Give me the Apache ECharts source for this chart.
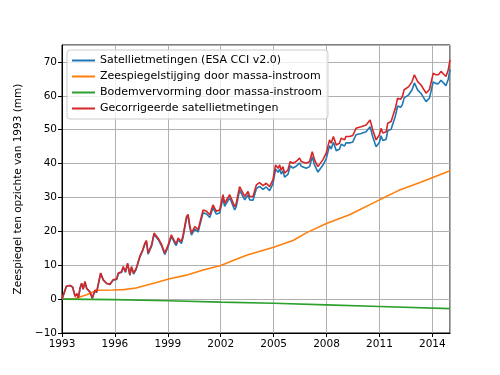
<!DOCTYPE html>
<html>
<head>
<meta charset="utf-8">
<script src="https://cdn.jsdelivr.net/npm/echarts@6/dist/echarts.min.js"></script>
<style>
html, body { margin: 0; padding: 0; background: #fff; }
#chart { width: 500px; height: 375px; }
</style>
</head>
<body>
<div id="chart"></div>
<script>
// jaartallen van de satellietreeks
var satYears = [1993.0, 1993.07, 1993.25, 1993.45, 1993.6, 1993.74, 1993.85, 1993.93, 1994.02, 1994.11,
	1994.2, 1994.3, 1994.4, 1994.58, 1994.72, 1994.87, 1994.96, 1995.19, 1995.34, 1995.53,
	1995.62, 1995.72, 1995.9, 1996.1, 1996.19, 1996.38, 1996.47, 1996.6, 1996.72, 1996.85,
	1996.94, 1997.06, 1997.2, 1997.41, 1997.57, 1997.7, 1997.79, 1997.88, 1998.08, 1998.22,
	1998.45, 1998.63, 1998.83, 1999.02, 1999.2, 1999.39, 1999.48, 1999.58, 1999.77, 1999.86,
	2000.06, 2000.15, 2000.24, 2000.34, 2000.53, 2000.72, 2000.81, 2001.0, 2001.2, 2001.28,
	2001.38, 2001.56, 2001.66, 2001.75, 2001.94, 2002.13, 2002.22, 2002.32, 2002.51, 2002.6,
	2002.79, 2002.88, 2003.07, 2003.17, 2003.36, 2003.55, 2003.64, 2003.83, 2004.02, 2004.2,
	2004.4, 2004.58, 2004.77, 2004.87, 2004.96, 2005.11, 2005.25, 2005.34, 2005.43, 2005.53,
	2005.62, 2005.81, 2005.94, 2006.09, 2006.28, 2006.47, 2006.57, 2006.66, 2006.85, 2007.04,
	2007.19, 2007.32, 2007.51, 2007.6, 2007.79, 2007.98, 2008.17, 2008.26, 2008.39, 2008.55,
	2008.73, 2008.83, 2009.02, 2009.1, 2009.3, 2009.49, 2009.67, 2009.96, 2010.24, 2010.47,
	2010.62, 2010.81, 2011.0, 2011.09, 2011.19, 2011.38, 2011.47, 2011.66, 2011.75, 2011.9,
	2012.03, 2012.2, 2012.3, 2012.4, 2012.5, 2012.66, 2012.85, 2012.98, 2013.17, 2013.36,
	2013.64, 2013.83, 2013.92, 2014.05, 2014.2, 2014.34, 2014.49, 2014.6, 2014.77, 2014.9,
	2015.0];
// Satellietmetingen (ESA CCI v2.0)
var satBlue = [0, 0.3, 3.8, 4.0, 3.6, 0.8, 1.6, 0.3, 3.1, 4.6,
	2.9, 5.1, 3.1, 2.1, 0.2, 2.6, 1.9, 7.6, 5.6, 4.6,
	5.1, 4.3, 5.6, 5.8, 7.5, 7.9, 9.4, 7.9, 10.4, 7.0,
	9.4, 7.4, 8.7, 12.3, 14.2, 16.2, 17.0, 13.3, 15.6, 19.1,
	17.6, 15.9, 13.2, 15.5, 18.5, 16.5, 15.8, 17.5, 16.4, 18.1,
	23.8, 24.4, 21.3, 18.9, 20.7, 19.8, 21.7, 25.5, 25.1, 25.5,
	24.1, 27.0, 26.6, 25.1, 25.4, 29.9, 27.4, 26.9, 29.9, 30.4,
	26.3, 27.3, 32.2, 31.7, 29.3, 30.8, 29.3, 29.2, 32.6, 33.3,
	32.4, 33.1, 32.0, 32.3, 34.0, 38.4, 37.4, 38.4, 36.9, 37.9,
	36.0, 36.8, 39.3, 38.7, 39.2, 40.2, 39.2, 39.7, 38.6, 39.1,
	42.0, 39.6, 37.5, 38.0, 39.5, 41.4, 45.3, 44.3, 46.3, 43.8,
	44.2, 45.7, 45.2, 46.1, 46.1, 46.4, 48.5, 48.9, 49.4, 50.9,
	47.9, 45.0, 46.3, 48.2, 46.8, 47.2, 49.7, 50.1, 50.1, 54.0,
	57.0, 56.6, 57.4, 59.4, 58.9, 60.3, 61.8, 63.8, 61.7, 60.7,
	58.3, 59.3, 61.2, 64.1, 63.6, 63.6, 64.6, 64.1, 63.0, 64.9,
	67.8];
// Gecorrigeerde satellietmetingen
var satRed = [0, 0.3, 3.8, 4.0, 3.6, 0.8, 1.6, 0.3, 3.2, 4.7,
	3.0, 5.2, 3.2, 2.2, 0.3, 2.7, 2.0, 7.7, 5.7, 4.7,
	5.2, 4.4, 5.7, 6.0, 7.7, 8.1, 9.6, 8.1, 10.6, 7.2,
	9.6, 7.7, 9.0, 12.6, 14.5, 16.5, 17.3, 13.6, 16.0, 19.5,
	18.0, 16.3, 13.6, 16.0, 19.0, 17.0, 16.3, 18.0, 17.0, 18.7,
	24.4, 25.0, 21.9, 19.5, 21.4, 20.5, 22.4, 26.3, 25.9, 26.3,
	24.9, 27.8, 27.4, 25.9, 26.3, 30.8, 28.3, 27.8, 30.8, 31.3,
	27.3, 28.3, 33.2, 32.7, 30.3, 31.8, 30.3, 30.3, 33.7, 34.4,
	33.5, 34.2, 33.2, 33.5, 35.2, 39.6, 38.6, 39.6, 38.1, 39.1,
	37.2, 38.1, 40.6, 40.1, 40.6, 41.6, 40.6, 41.1, 40.1, 40.6,
	43.5, 41.1, 39.1, 39.6, 41.1, 43.1, 47.0, 46.0, 48.0, 45.5,
	46.0, 47.5, 47.0, 48.0, 48.0, 48.3, 50.4, 50.9, 51.4, 52.9,
	49.9, 47.0, 48.5, 50.4, 49.0, 49.4, 51.9, 52.4, 52.4, 56.3,
	59.3, 59.0, 59.8, 61.8, 61.3, 62.7, 64.2, 66.2, 64.2, 63.2,
	60.8, 61.8, 63.7, 66.7, 66.2, 66.2, 67.2, 66.7, 65.7, 67.6,
	70.6];
// Zeespiegelstijging door massa-instroom
var massYears = [1993.0, 1993.7, 1994.4, 1995.0, 1995.9, 1996.5, 1997.2, 1998.2, 1999.1, 2000.0,
	2001.0, 2002.0, 2002.7, 2003.5, 2005.0, 2006.1, 2006.9, 2008.0, 2009.3, 2011.0,
	2012.1, 2013.3, 2015.0];
var massRise = [0, 0.1, 1.3, 2.6, 2.7, 2.8, 3.3, 4.7, 6.0, 7.0,
	8.6, 9.9, 11.4, 13.0, 15.3, 17.3, 19.7, 22.3, 24.9, 29.3,
	32.1, 34.4, 37.9];
// Bodemvervorming door massa-instroom
var gyreYears = [1993, 1996, 1999, 2002, 2005, 2008, 2011, 2015];
var gyreVals = [0, -0.15, -0.5, -0.9, -1.2, -1.7, -2.2, -2.8];

var startYear = 1993;
var seriesNames = ['Satellietmetingen (ESA CCI v2.0)', 'Zeespiegelstijging door massa-instroom',
	'Bodemvervorming door massa-instroom', 'Gecorrigeerde satellietmetingen'];
var colors = ['#1f77b4', '#ff7f0e', '#2ca02c', '#d62728'];

function pairs(xs, ys) {
	var out = [];
	for (var i = 0; i < xs.length; i++) {
		out.push([xs[i] - startYear, ys[i]]);
	}
	return out;
}

function minus(v) {
	return v < 0 ? '\u2212' + Math.abs(v) : '' + v;
}

var chart = echarts.init(document.getElementById('chart'));
var font = 'DejaVu Sans';
var option = {
	animation: false,
	color: colors,
	grid: {
		left: 62, right: 50, top: 45, bottom: 42,
		show: true, borderColor: '#000', borderWidth: 1, backgroundColor: 'transparent'
	},
	legend: {
		orient: 'vertical',
		left: 67, top: 50,
		data: seriesNames,
		icon: 'rect',
		itemWidth: 23, itemHeight: 2,
		itemGap: 3,
		padding: [4, 6, 4, 5],
		backgroundColor: 'rgba(255,255,255,0.8)',
		borderColor: '#ccc', borderWidth: 1, borderRadius: 3,
		textStyle: { fontFamily: font, fontSize: 11, color: '#000', lineHeight: 13 }
	},
	xAxis: {
		type: 'value',
		min: 0, max: 22, interval: 3,
		axisLine: { show: true, onZero: false, lineStyle: { color: '#000' } },
		axisTick: { show: true, length: 4, lineStyle: { color: '#000' } },
		axisLabel: {
			showMaxLabel: false,
			fontFamily: font, fontSize: 10.5, color: '#000', margin: 6,
			formatter: function (v) { return '' + (v + startYear); }
		},
		splitLine: { show: true, lineStyle: { color: '#b0b0b0', width: 1 } }
	},
	yAxis: {
		type: 'value',
		min: -10, max: 75, interval: 10,
		name: 'Zeespiegel ten opzichte van 1993 (mm)',
		nameLocation: 'middle',
		nameGap: 32,
		nameTextStyle: { fontFamily: font, fontSize: 10.5, color: '#000' },
		axisLine: { show: true, onZero: false, lineStyle: { color: '#000' } },
		axisTick: { show: true, length: 4, lineStyle: { color: '#000' } },
		axisLabel: {
			showMaxLabel: false,
			fontFamily: font, fontSize: 10.5, color: '#000', margin: 5,
			formatter: minus
		},
		splitLine: { show: true, lineStyle: { color: '#b0b0b0', width: 1 } }
	},
	series: [{
		name: seriesNames[0], type: 'line', showSymbol: false, symbol: 'none',
		lineStyle: { width: 1.6 }, data: pairs(satYears, satBlue)
	}, {
		name: seriesNames[1], type: 'line', showSymbol: false, symbol: 'none',
		lineStyle: { width: 1.6 }, data: pairs(massYears, massRise)
	}, {
		name: seriesNames[2], type: 'line', showSymbol: false, symbol: 'none',
		lineStyle: { width: 1.6 }, data: pairs(gyreYears, gyreVals)
	}, {
		name: seriesNames[3], type: 'line', showSymbol: false, symbol: 'none',
		lineStyle: { width: 1.6 }, data: pairs(satYears, satRed)
	}]
};
chart.setOption(option);
</script>
</body>
</html>
